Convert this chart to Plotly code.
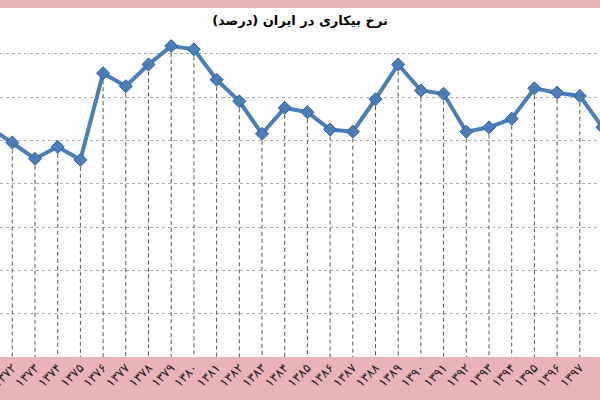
import plotly.graph_objects as go

# Unemployment rate in Iran (percent), solar hijri years 1371-1398
year_nums = list(range(1371, 1399))
years = ["۱۳۷۱", "۱۳۷۲", "۱۳۷۳", "۱۳۷۴", "۱۳۷۵", "۱۳۷۶", "۱۳۷۷", "۱۳۷۸", "۱۳۷۹",
         "۱۳۸۰", "۱۳۸۱", "۱۳۸۲", "۱۳۸۳", "۱۳۸۴", "۱۳۸۵", "۱۳۸۶", "۱۳۸۷", "۱۳۸۸",
         "۱۳۸۹", "۱۳۹۰", "۱۳۹۱", "۱۳۹۲", "۱۳۹۳", "۱۳۹۴", "۱۳۹۵", "۱۳۹۶", "۱۳۹۷",
         "۱۳۹۸"]
rates = [10.6, 9.9, 9.15, 9.7, 9.1, 13.1, 12.5, 13.5, 14.35,
         14.2, 12.8, 11.8, 10.3, 11.5, 11.3, 10.5, 10.4, 11.9,
         13.5, 12.3, 12.15, 10.4, 10.6, 11.0, 12.4, 12.2, 12.05,
         10.6]
title_text = "نرخ بیکاری در ایران (درصد)"

blue = "#4a7ebb"
pink = "#e8b4b8"

# drop lines from every point down to the axis
drop_x, drop_y = [], []
for yr, val in zip(year_nums, rates):
    drop_x += [yr, yr, None]
    drop_y += [val, 0, None]

fig = go.Figure()
fig.add_trace(go.Scatter(
    x=drop_x, y=drop_y, mode="lines",
    line=dict(color="#555555", width=1, dash="4px,3px"),
    hoverinfo="skip", showlegend=False,
))
fig.add_trace(go.Scatter(
    x=year_nums, y=rates, mode="lines+markers",
    line=dict(color=blue, width=4),
    marker=dict(symbol="diamond", size=10, color=blue,
                line=dict(color="#2f5f99", width=1)),
    showlegend=False,
))

top, bottom, height = 32, 43, 400
plot_h = height - top - bottom

# pink bands: full-width strip at the very top and behind the year labels
fig.add_shape(type="rect", xref="paper", yref="paper", layer="below",
              x0=-0.01, x1=1.01, y0=-bottom / plot_h, y1=0,
              fillcolor=pink, line_width=0)
fig.add_shape(type="rect", xref="paper", yref="paper", layer="below",
              x0=-0.01, x1=1.01, y0=(plot_h + top - 8) / plot_h, y1=(plot_h + top) / plot_h,
              fillcolor=pink, line_width=0)

fig.update_layout(
    width=600, height=height,
    margin=dict(l=0, r=0, t=top, b=bottom, autoexpand=False),
    paper_bgcolor="white", plot_bgcolor="white",
    title=dict(text="<b>" + title_text + "</b>", x=0.5, xanchor="center",
               y=1 - 20 / height, yanchor="middle",
               font=dict(family="DejaVu Sans", size=13, color="black")),
    font=dict(family="DejaVu Sans", color="#222222"),
)
fig.update_xaxes(
    range=[1371.458, 1397.89],
    tickvals=year_nums, ticktext=years,
    showgrid=False, zeroline=False, showline=False,
    tickangle=-45, tickfont=dict(size=12.5, color="#222222"), ticks="",
    ticklabeloverflow="allow", automargin=False,
)
fig.update_yaxes(
    range=[0, 15], dtick=2, showticklabels=False, zeroline=False,
    showgrid=True, gridcolor="#b0b0b0", griddash="dot", gridwidth=1,
)

# drop the browser's default body margin so the figure fills the window
fig.write_html("out.html", config={"displayModeBar": False},
               post_script="document.body.style.margin='0';")
